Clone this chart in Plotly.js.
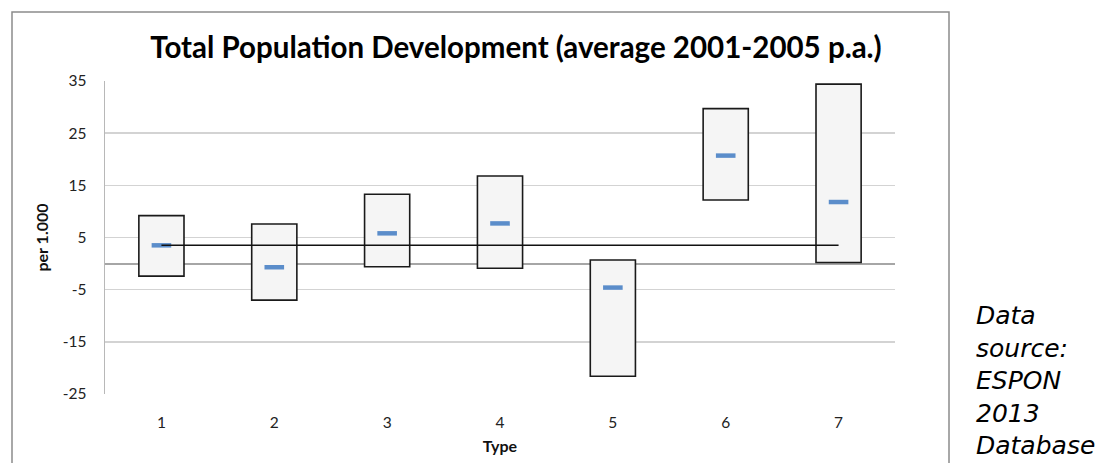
<!DOCTYPE html>
<html>
<head>
<meta charset="utf-8">
<script src="https://cdn.plot.ly/plotly-3.0.1.min.js"></script>
<style>
  html, body { margin: 0; padding: 0; background: #ffffff; }
  #chart { width: 1106px; height: 463px; }
</style>
</head>
<body>
<div id="chart"></div>
<script>
// Data (per 1.000, average 2001-2005 p.a.)
const types = [1, 2, 3, 4, 5, 6, 7];
const typeLabels = ['1', '2', '3', '4', '5', '6', '7'];
const maxValues = [9.2, 7.6, 13.3, 16.8, 0.7, 29.7, 34.4];
const minValues = [-2.4, -7.0, -0.6, -0.9, -21.6, 12.2, 0.2];
const meanValues = [3.5, -0.7, 5.8, 7.7, -4.6, 20.7, 11.8];
const overallMean = [3.5, 3.5, 3.5, 3.5, 3.5, 3.5, 3.5];
const yTicks = [-25, -15, -5, 5, 15, 25, 35];

const rangeHeights = maxValues.map((v, i) => v - minValues[i]);

const traces = [
  {
    type: 'bar',
    x: types,
    y: rangeHeights,
    base: minValues,
    width: 0.4,
    marker: { color: '#f5f5f5', line: { color: '#1a1a1a', width: 1.6 } },
    hoverinfo: 'skip',
    showlegend: false
  },
  {
    type: 'scatter',
    mode: 'markers',
    x: types,
    y: meanValues,
    marker: { symbol: 'line-ew', size: 14, line: { color: '#5b8dca', width: 4.5 } },
    showlegend: false
  },
  {
    type: 'scatter',
    mode: 'lines',
    x: types,
    y: overallMean,
    line: { color: '#111111', width: 1.5 },
    showlegend: false
  }
];

// plot area in pixels: left 105, right 895, top 81, bottom 394
const L = 105, R = 895, T = 81, B = 394;
const pw = R - L, ph = B - T;
const px = v => (v - L) / pw;
const py = v => (B - v) / ph;

const layout = {
  width: 1106,
  height: 463,
  margin: { l: L, r: 1106 - R, t: T, b: 463 - B, pad: 0 },
  paper_bgcolor: '#ffffff',
  plot_bgcolor: '#ffffff',
  font: { family: 'Lato, "Open Sans", sans-serif', color: '#222222' },
  title: {
    text: '<b>Total Population Development (average 2001-2005 p.a.)</b>',
    font: { family: 'Lato, "Open Sans", sans-serif', size: 29.5, color: '#000000' },
    xref: 'paper', x: px(516), xanchor: 'center',
    yref: 'container', y: 1 - 48 / 463, yanchor: 'middle'
  },
  bargap: 0,
  xaxis: {
    range: [0.5, 7.5],
    tickmode: 'array',
    tickvals: types,
    ticktext: typeLabels,
    showgrid: false,
    zeroline: false,
    showline: false,
    ticks: '',
    ticklabelstandoff: 17,
    tickfont: { size: 15.5, color: '#222222' },
    title: { text: '<b>Type</b>', font: { size: 16, color: '#111111' }, standoff: 11 },
    fixedrange: true
  },
  yaxis: {
    range: [-25, 35],
    tickmode: 'array',
    tickvals: yTicks,
    ticktext: yTicks.map(String),
    showgrid: true,
    gridcolor: '#d3d3d3',
    gridwidth: 1.5,
    zeroline: true,
    zerolinecolor: '#a6a6a6',
    zerolinewidth: 2,
    showline: true,
    linecolor: '#b8b8b8',
    linewidth: 1.5,
    ticks: '',
    ticklabelstandoff: 14,
    tickfont: { size: 15.5, color: '#222222' },
    title: { text: '<b>per 1.000</b>', font: { size: 16, color: '#111111' }, standoff: 10 },
    fixedrange: true
  },
  shapes: [
    {
      type: 'rect', xref: 'paper', yref: 'paper', layer: 'below',
      x0: px(12), x1: px(949), y0: py(475), y1: py(12),
      line: { color: '#8c8c8c', width: 1.5 }, fillcolor: 'rgba(0,0,0,0)'
    }
  ],
  annotations: [
    {
      xref: 'paper', yref: 'paper',
      x: px(974), xanchor: 'left',
      y: py(380), yanchor: 'middle',
      text: '<i>Data<br>source:<br>ESPON<br>2013<br>Database</i>',
      align: 'left',
      showarrow: false,
      font: { family: '"DejaVu Sans", Verdana, sans-serif', size: 25, color: '#000000' }
    }
  ]
};

Plotly.newPlot('chart', traces, layout, { displayModeBar: false, staticPlot: true });
</script>
</body>
</html>
